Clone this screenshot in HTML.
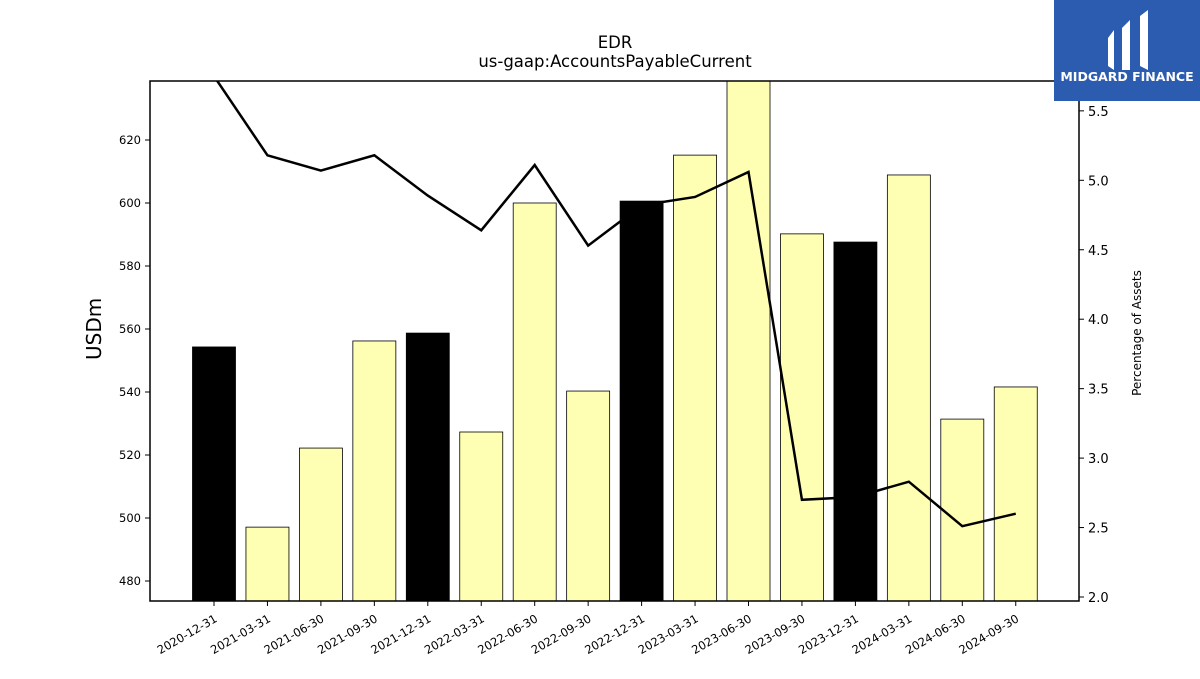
<!DOCTYPE html>
<html><head><meta charset="utf-8"><style>
body{margin:0;background:#fff;font-family:"DejaVu Sans","Liberation Sans",sans-serif;}
</style></head><body>
<svg id="c" width="1200" height="675" xmlns="http://www.w3.org/2000/svg"></svg>
<script>
const categories=["2020-12-31","2021-03-31","2021-06-30","2021-09-30","2021-12-31","2022-03-31","2022-06-30","2022-09-30","2022-12-31","2023-03-31","2023-06-30","2023-09-30","2023-12-31","2024-03-31","2024-06-30","2024-09-30"];
const barValues=[554.3,497.1,522.2,556.2,558.7,527.3,600,540.3,600.6,615.2,640,590.2,587.6,608.9,531.4,541.6];
const pctValues=[5.75,5.18,5.07,5.18,4.89,4.64,5.11,4.53,4.82,4.88,5.06,2.70,2.72,2.83,2.51,2.60];
const leftTicks=[480,500,520,540,560,580,600,620];
const rightTicks=[2.0,2.5,3.0,3.5,4.0,4.5,5.0,5.5];
const NS="http://www.w3.org/2000/svg";
const svg=document.getElementById('c');
const L=150,R=1079,T=81,B=601;
const yL=v=>581-(v-480)*3.15;
const yR=v=>597-(v-2.0)*138.9;
const xC=i=>214+i*53.45;
function mk(t,a,p){const e=document.createElementNS(NS,t);for(const k in a)e.setAttribute(k,a[k]);(p||svg).appendChild(e);return e;}
const defs=mk('defs',{});const cp=mk('clipPath',{id:'pc'},defs);mk('rect',{x:L,y:T,width:R-L,height:B-T},cp);
const g=mk('g',{'clip-path':'url(#pc)'});
barValues.forEach((v,i)=>{const y=yL(v);const b=mk('rect',{x:xC(i)-21.5,y:y,width:43,height:B-y,fill:categories[i].endsWith('12-31')?'#000':'#ffffb3',stroke:'#000','stroke-width':0.8},g);

});
const pl=mk('polyline',{points:pctValues.map((v,i)=>xC(i)+','+yR(v)).join(' '),fill:'none',stroke:'#000','stroke-width':2.5},g);


const fr=mk('rect',{x:L,y:T,width:R-L,height:B-T,fill:'none',stroke:'#000','stroke-width':1.5});

leftTicks.forEach(v=>{const y=yL(v);mk('line',{x1:L-5,x2:L,y1:y,y2:y,stroke:'#000'});const t=mk('text',{x:L-9,y:y+4,'text-anchor':'end','font-size':11.5});t.textContent=v;
});
rightTicks.forEach(v=>{const y=yR(v);mk('line',{x1:R,x2:R+5,y1:y,y2:y,stroke:'#000'});const t=mk('text',{x:R+9,y:y+5,'font-size':13});t.textContent=v.toFixed(1);
});
categories.forEach((c,i)=>{const x=xC(i);mk('line',{x1:x,x2:x,y1:B,y2:B+5,stroke:'#000'});const t=mk('text',{x:x+4,y:B+20,'text-anchor':'end','font-size':11.5,transform:`rotate(-30 ${x+4} ${B+20})`});t.textContent=c;
});
</script>
<div style="position:absolute;left:415px;top:33px;width:400px;text-align:center;font-size:16.5px;line-height:19px;">EDR<br>us-gaap:AccountsPayableCurrent</div>
<div style="position:absolute;left:64px;top:330px;font-size:20px;transform:translate(0,-50%) rotate(-90deg);transform-origin:center;width:60px;text-align:center;">USDm</div>
<div style="position:absolute;left:1072px;top:333px;width:130px;text-align:center;font-size:12px;transform:translateY(-50%) rotate(-90deg);">Percentage of Assets</div>
<div style="position:absolute;left:1054px;top:0;width:146px;height:101px;background:#2c5cb0;">
<svg width="146" height="101" style="position:absolute;left:0;top:0"><path d="M54 38 L60 30 L60 70 L54 66Z M68 28 L76 20 L76 70 L68 70Z M86 16 L94 10 L94 70 L86 66Z" fill="#fff"/></svg>
<div style="position:absolute;left:0;top:69px;width:146px;text-align:center;color:#fff;font-weight:bold;font-size:12.5px;">MIDGARD FINANCE</div></div>
</body></html>
